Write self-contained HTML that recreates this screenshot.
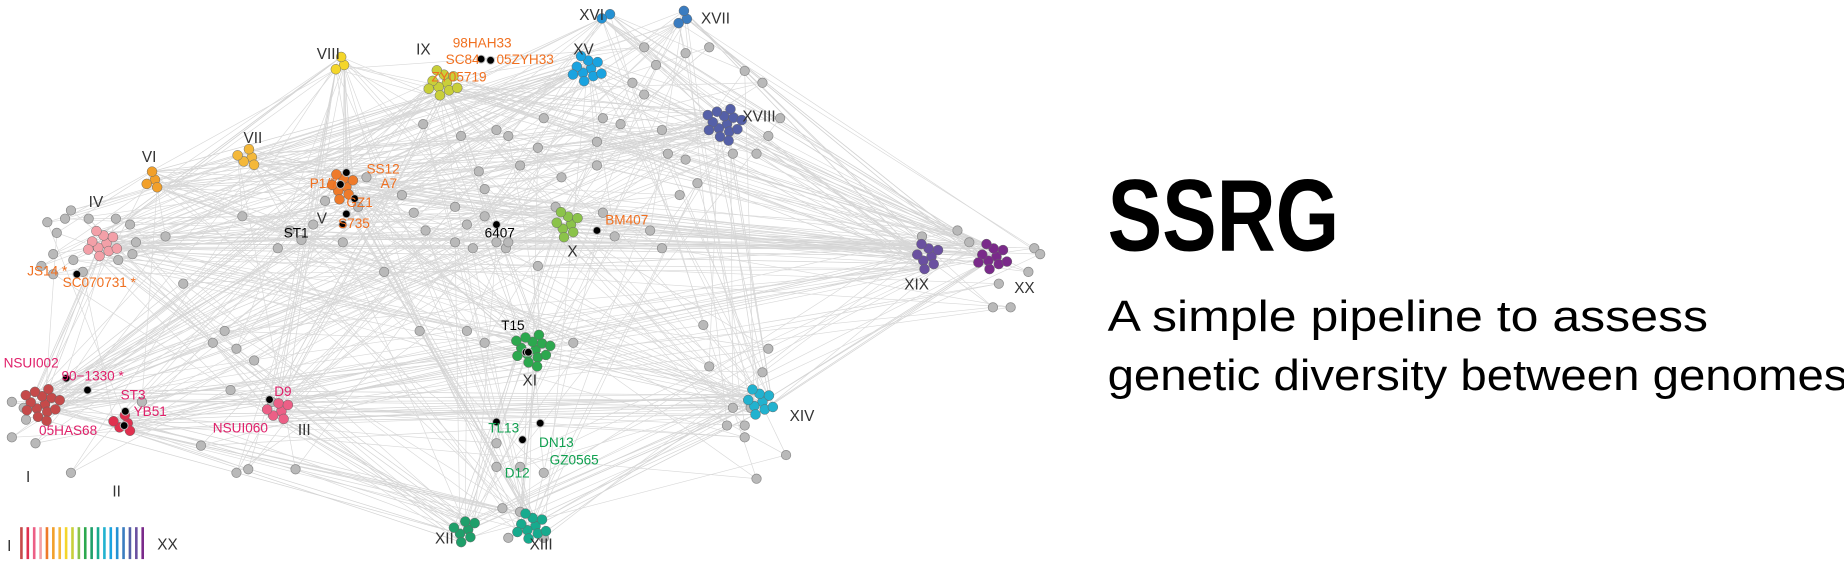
<!DOCTYPE html>
<html><head><meta charset="utf-8"><style>
html,body{margin:0;padding:0;background:#fff}
svg{display:block}
</style></head><body>
<svg id="chart" width="1844" height="565" viewBox="0 0 1560 478" xmlns="http://www.w3.org/2000/svg">
<g id="edges"></g>
<g id="nodes"></g>
<g id="labels"></g>
<g id="legend"></g>
<text x="937" y="212" font-family="Liberation Sans, sans-serif" font-weight="bold" font-size="86" textLength="196" lengthAdjust="spacingAndGlyphs" fill="#000">SSRG</text>
<text x="937" y="280" font-family="Liberation Sans, sans-serif" font-size="37" textLength="508" lengthAdjust="spacingAndGlyphs" fill="#000">A simple pipeline to assess</text>
<text x="937" y="330" font-family="Liberation Sans, sans-serif" font-size="37" textLength="626" lengthAdjust="spacingAndGlyphs" fill="#000">genetic diversity between genomes</text>
</svg>
<script>
const NS='http://www.w3.org/2000/svg';
const clusterNames=['I','II','III','IV','V','VI','VII','VIII','IX','X','XI','XII','XIII','XIV','XV','XVI','XVII','XVIII','XIX','XX'];
const clusterX=[35,105,235,87,290,128,210,288,375,480,450,393,450,642,497,513,578,612,785,840];
const clusterY=[342,358,348,206,158,152,133,55,70,190,296,448,445,340,58,12,16,105,217,217];
const clusterCount=[14,5,6,10,8,4,5,3,10,8,14,7,10,9,10,2,3,14,8,10];
const clusterColors=['#c54a4a','#e0304f','#ec5f86','#f3a0a8','#ee7a2a','#f2a02a','#f4b83a','#f4d62a','#c9cf3a','#8bc34a','#2ca84e','#1f9f6a','#17ab8e','#22b2cf','#1aa3e0','#2491d3','#3a7cc0','#5560a8','#6a50a0','#7a2a8a'];
const labelX=[22,95,252,75,268,120,206,268,352,480,442,368,448,668,485,490,593,628,765,858];
const labelY=[408,420,368,175,189,137,121,50,46,217,326,460,465,356,46,17,20,103,245,248];
const grayX=[48,55,60,40,45,62,75,98,110,115,112,100,70,35,45,140,155,205,245,235,255,265,290,275,303,310,340,350,385,385,405,410,410,420,428,470,510,455,485,360,325,355,395,410,200,190,180,215,230,195,170,200,210,250,420,420,440,460,425,430,440,460,650,635,620,645,650,630,615,630,595,600,640,665,505,440,455,430,390,358,420,460,510,525,545,555,535,545,580,600,630,645,650,660,640,620,565,560,580,590,575,505,520,550,560,840,855,875,880,845,820,870,810,780,430,475,395,400,20,10,22,30,120,10,60];
const grayY=[197,185,178,188,215,220,185,185,190,205,215,220,230,225,232,200,240,183,195,210,203,190,205,170,175,150,165,180,205,175,145,160,183,205,210,175,180,225,290,195,230,280,280,290,295,280,290,305,340,330,377,400,397,397,395,375,395,400,430,455,433,455,335,345,345,315,295,360,360,370,275,310,405,385,120,140,125,115,115,105,110,100,100,105,40,55,70,80,45,40,60,70,115,100,130,130,130,110,135,155,165,140,200,195,210,260,260,210,215,240,205,230,195,200,205,150,190,210,345,340,355,375,340,370,400];
const edgePairs=[['I','XI'],['I','IV'],['I','V'],['I','X'],['I','XIV'],['I','XII'],['II','XI'],['II','XIII'],['III','XI'],['III','XIV'],['III','IX'],['IV','XIX'],['IV','XX'],['IV','XVIII'],['IV','XV'],['IV','X'],['IV','XI'],['V','XVIII'],['V','XIX'],['V','XX'],['V','XV'],['V','XI'],['V','XIII'],['VI','IX'],['VI','XVIII'],['VII','XV'],['VII','X'],['VIII','V'],['VIII','III'],['VIII','IV'],['IX','XVIII'],['IX','XIX'],['IX','XX'],['IX','XI'],['X','XIX'],['X','XX'],['X','XII'],['XI','XIV'],['XI','XIX'],['XI','XIII'],['XII','XIV'],['XII','IV'],['XIII','XIV'],['XIII','V'],['XIV','XVIII'],['XIV','XX'],['XV','XIX'],['XV','XX'],['XVI','XX'],['XVI','XVIII'],['XVII','XIX'],['XVII','XX'],['XVIII','XIX'],['XVIII','XX'],['XVIII','I'],['XV','I'],['IX','I'],['VI','XIV'],['III','XII'],['II','XIV']];
const strainNames=['NSUI002','90−1330 *','ST3','YB51','05HAS68','D9','NSUI060','JS14 *','SC070731 *','SS12','A7','P1/7','GZ1','S735','ST1','6407','BM407','98HAH33','SC84','05ZYH33','ZY05719','T15','TL13','DN13','GZ0565','D12'];
const strainX=[3,52,102,113,33,232,180,23,53,310,322,262,293,286,240,410,512,383,377,420,365,424,413,456,465,427];
const strainY=[311,322,338,352,368,335,366,233,243,147,159,159,175,193,201,201,190,40,54,54,69,279,366,378,393,404];
const strainColors=['#e0206a','#e0206a','#e0206a','#e0206a','#e0206a','#e0206a','#e0206a','#f07020','#f07020','#f07020','#f07020','#f07020','#f07020','#f07020','#000','#000','#f07020','#f07020','#f07020','#f07020','#f07020','#000','#10a050','#10a050','#10a050','#10a050'];
const blackDotX=[56,74,106,105,228,65,293,300,288,293,290,420,505,407,415,445,447,420,457,442];
const blackDotY=[320,330,348,360,338,232,146,168,156,181,190,190,195,50,51,298,298,357,358,372];

const eg=document.getElementById('edges'),ng=document.getElementById('nodes'),lg=document.getElementById('labels'),leg=document.getElementById('legend');
function mk(tag,attrs,parent){const e=document.createElementNS(NS,tag);for(const k in attrs)e.setAttribute(k,attrs[k]);parent.appendChild(e);return e;}
const members=clusterNames.map((n,i)=>{const arr=[];for(let k=0;k<clusterCount[i];k++){const r=3.2*Math.sqrt(k+0.5)*1.35;const a=k*2.39996;arr.push([clusterX[i]+r*Math.cos(a),clusterY[i]+r*Math.sin(a)]);}return arr;});
const idx={};clusterNames.forEach((n,i)=>idx[n]=i);
edgePairs.forEach((p,j)=>{const a=members[idx[p[0]]],b=members[idx[p[1]]];for(let k=0;k<4;k++){const s=a[(k*3+j)%a.length],t=b[(k*5+j)%b.length];
const l=mk('line',{x1:s[0],y1:s[1],x2:t[0],y2:t[1],stroke:'#d4d4d4','stroke-width':0.6},eg);

}});
grayX.forEach((x,i)=>{const targets=[(i*7)%20,(i*11+3)%20,(i*13+5)%20];targets.forEach((c,k)=>{const m=members[c][(i+k)%members[c].length];
const l=mk('line',{x1:x,y1:grayY[i],x2:m[0],y2:m[1],stroke:'#d8d8d8','stroke-width':0.55},eg);

});});
grayX.forEach((x,i)=>{const c=mk('circle',{cx:x,cy:grayY[i],r:4,fill:'#b9b9b9',stroke:'#8a8a8a','stroke-width':0.6},ng);

});
members.forEach((arr,i)=>{arr.forEach(p=>{const c=mk('circle',{cx:p[0],cy:p[1],r:4.2,fill:clusterColors[i],stroke:'#666','stroke-width':0.4},ng);

});});
blackDotX.forEach((x,i)=>{const c=mk('circle',{cx:x,cy:blackDotY[i],r:3.3,fill:'#000',stroke:'#bbb','stroke-width':0.8},ng);

});
clusterNames.forEach((n,i)=>{const t=mk('text',{x:labelX[i],y:labelY[i],'font-family':'Liberation Sans, sans-serif','font-size':13,fill:'#333'},lg);t.textContent=n;

});
strainNames.forEach((n,i)=>{const t=mk('text',{x:strainX[i],y:strainY[i],'font-family':'Liberation Sans, sans-serif','font-size':11.5,fill:strainColors[i]},lg);t.textContent=n;

});
const lt1=mk('text',{x:6,y:466,'font-family':'Liberation Sans, sans-serif','font-size':13,fill:'#333'},leg);lt1.textContent='I';


clusterColors.forEach((c,i)=>{const r=mk('rect',{x:17+i*5.4,y:446,width:2.2,height:27,fill:c},leg);

});
const lt2=mk('text',{x:133,y:465,'font-family':'Liberation Sans, sans-serif','font-size':13,fill:'#333'},leg);lt2.textContent='XX';


</script>
</body></html>
